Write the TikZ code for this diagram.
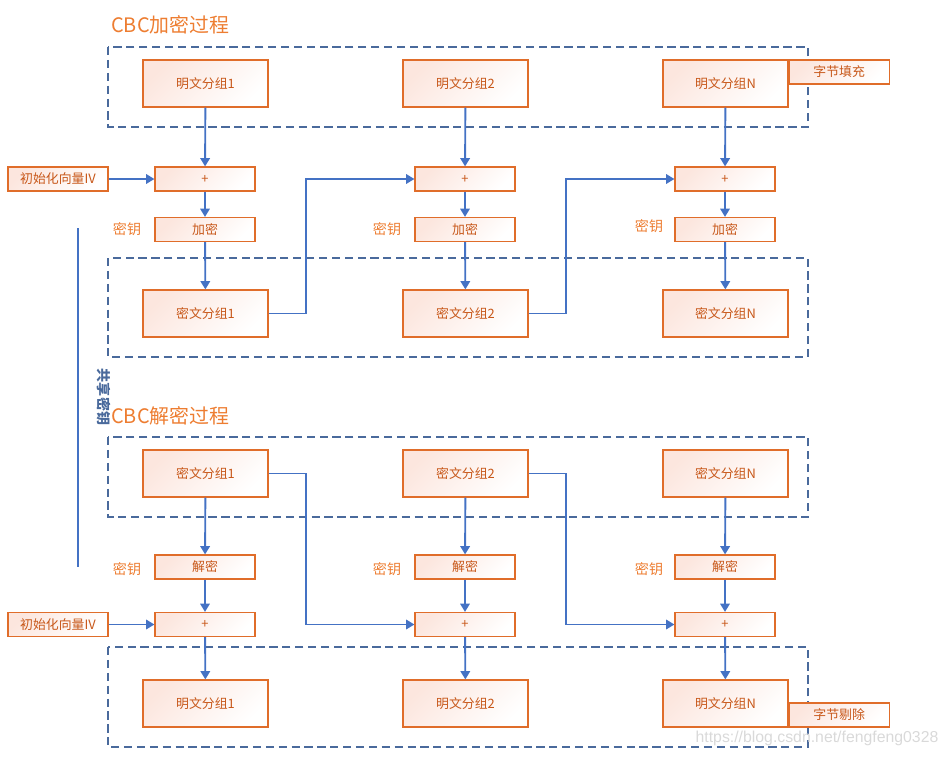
\documentclass[tikz,border=0pt]{standalone}
\usepackage{fontspec}
\setmainfont{Noto Sans CJK SC}
\newfontfamily\markfont{Liberation Sans}
\usetikzlibrary{arrows.meta}
\definecolor{boxline}{HTML}{E06D2A}
\definecolor{boxtext}{HTML}{C8581A}
\definecolor{boxfill}{HTML}{FCE6DE}
\definecolor{arrblue}{HTML}{4472C4}
\definecolor{dashblue}{HTML}{4A6A9C}
\definecolor{titlec}{HTML}{ED7D31}
\begin{document}
\begin{tikzpicture}[x=0.03cm,y=-0.03cm,
    blk/.style={draw=boxline,line width=1pt,top color=boxfill,bottom color=white,shading angle=45,
      text=boxtext,minimum width=3.75cm,minimum height=1.41cm,inner sep=0pt,
      font=\fontsize{11}{13}\selectfont},
    sml/.style={blk,minimum width=3cm,minimum height=0.72cm},
    lbl/.style={text=titlec,font=\fontsize{12}{14}\selectfont},
    ttl/.style={text=titlec,anchor=west,inner sep=0pt,font=\fontsize{17}{19}\selectfont},
    grp/.style={draw=dashblue,line width=0.9pt,dash pattern=on 7pt off 4pt},
    arr/.style={draw=arrblue,line width=1.6pt,-{Triangle[length=7pt,width=8pt]}}]
  \useasboundingbox (0,0) rectangle (948,757);
  % encryption
  \node[ttl] (t1) at (111,25) {CBC加密过程};
  \draw[grp] (108,47) rectangle (808,127);
  \draw[grp] (108,258) rectangle (808,357);
  \node[blk] (p1) at (205.5,83.5) {明文分组1};
  \node[blk] (p2) at (465.5,83.5) {明文分组2};
  \node[blk] (pn) at (725.5,83.5) {明文分组N};
  \node[sml,anchor=north west] (pad) at (pn.north east) {字节填充};
  \node[sml] (iv1) at (58,179) {初始化向量IV};
  \node[sml] (x1) at (205,179) {+};
  \node[sml] (x2) at (465,179) {+};
  \node[sml] (xn) at (725,179) {+};
  \node[sml] (e1) at (205,229.5) {加密};
  \node[sml] (e2) at (465,229.5) {加密};
  \node[sml] (en) at (725,229.5) {加密};
  \node[lbl] (k1) at (127,229) {密钥};
  \node[lbl] (k2) at (387,229) {密钥};
  \node[lbl] (kn) at (649,226) {密钥};
  \node[blk] (c1) at (205.5,313.5) {密文分组1};
  \node[blk] (c2) at (465.5,313.5) {密文分组2};
  \node[blk] (cn) at (725.5,313.5) {密文分组N};
  \draw[arr] (p1) -- (x1);
  \draw[arr] (p2) -- (x2);
  \draw[arr] (pn) -- (xn);
  \draw[arr] (iv1) -- (x1);
  \draw[arr] (x1) -- (e1);
  \draw[arr] (x2) -- (e2);
  \draw[arr] (xn) -- (en);
  \draw[arr] (e1) -- (c1);
  \draw[arr] (e2) -- (c2);
  \draw[arr] (en) -- (cn);
  \draw[arr] (c1.east) -- ++(37,0) |- (x2.west);
  \draw[arr] (c2.east) -- ++(37,0) |- (xn.west);
  % shared key
  \coordinate (s1) at (78,228);
  \coordinate (s2) at (78,567);
  \draw[arrblue,line width=1.6pt] (s1) -- (s2);
  \node[text=dashblue,rotate=-90,font=\fontsize{12}{14}\selectfont\bfseries] (sk) at (104,397) {共享密钥};
  % decryption
  \node[ttl] (t2) at (111,416) {CBC解密过程};
  \draw[grp] (108,437) rectangle (808,517);
  \draw[grp] (108,647) rectangle (808,747);
  \node[blk] (d1) at (205.5,473.5) {密文分组1};
  \node[blk] (d2) at (465.5,473.5) {密文分组2};
  \node[blk] (dn) at (725.5,473.5) {密文分组N};
  \node[sml] (f1) at (205,567) {解密};
  \node[sml] (f2) at (465,567) {解密};
  \node[sml] (fn) at (725,567) {解密};
  \node[lbl] (j1) at (127,569) {密钥};
  \node[lbl] (j2) at (387,569) {密钥};
  \node[lbl] (jn) at (649,569) {密钥};
  \node[sml] (iv2) at (58,624.5) {初始化向量IV};
  \node[sml] (y1) at (205,624.5) {+};
  \node[sml] (y2) at (465,624.5) {+};
  \node[sml] (yn) at (725,624.5) {+};
  \node[blk] (m1) at (205.5,703.5) {明文分组1};
  \node[blk] (m2) at (465.5,703.5) {明文分组2};
  \node[blk] (mn) at (725.5,703.5) {明文分组N};
  \node[sml,anchor=south west] (cut) at (mn.south east) {字节剔除};
  \draw[arr] (d1) -- (f1);
  \draw[arr] (d2) -- (f2);
  \draw[arr] (dn) -- (fn);
  \draw[arr] (f1) -- (y1);
  \draw[arr] (f2) -- (y2);
  \draw[arr] (fn) -- (yn);
  \draw[arr] (iv2) -- (y1);
  \draw[arr] (y1) -- (m1);
  \draw[arr] (y2) -- (m2);
  \draw[arr] (yn) -- (mn);
  \draw[arr] (d1.east) -- ++(37,0) |- (y2.west);
  \draw[arr] (d2.east) -- ++(37,0) |- (yn.west);
  \node[text=black!15,font=\markfont\fontsize{13.5}{15}\selectfont] (wm) at (817,738) {https://blog.csdn.net/fengfeng0328};
\end{tikzpicture}
\end{document}
